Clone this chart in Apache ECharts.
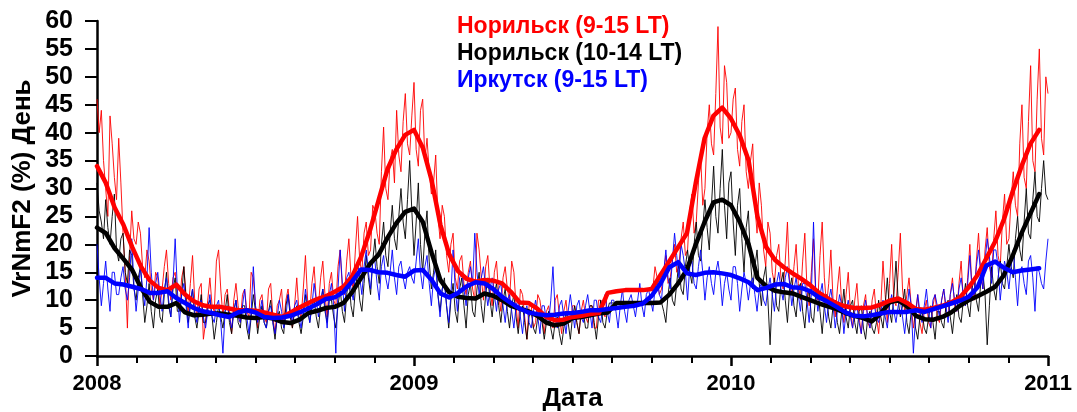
<!DOCTYPE html>
<html>
<head>
<meta charset="utf-8">
<script src="https://cdn.jsdelivr.net/npm/echarts@6/dist/echarts.min.js"></script>
<style>
  html, body { margin: 0; padding: 0; background: #fff; }
  #chart { width: 1077px; height: 412px; }
</style>
</head>
<body>
<div id="chart"></div>
<script>
// Dates are fractional years; raw series sampled every 2.5 days, running means every ~10 days.
const START_YEAR = 2008;
const RAW_PER_YEAR = 146;
const MEAN_PER_YEAR = 36;
const yearTicks = [2008, 2009, 2010, 2011];

const seriesNames = ['Норильск (9-15 LT)', 'Норильск (10-14 LT)', 'Иркутск (9-15 LT)'];

// Норильск, 9-15 LT — raw values (one row = 50 days)
const norilsk915Raw = [
  46,40, 44,35, 30,25, 43,38, 32,28, 39,31, 22,15, 5,18, 26,21, 20,24,
  22,16, 14,19, 17,12, 10,15, 14,9, 12,16, 19,13, 10,14, 15,11, 9,14,
  16,11, 8,13, 18,10, 7,12, 13,3, 6,10, 14,9, 8,17, 19,12, 7,11,
  12,8, 4,10, 13,9, 6,11, 12,8, 7,15, 14,9, 5,10, 11,7, 6,12,
  13,7, 4,9, 10,12, 6,10, 12,8, 5,9, 14,8, 7,12, 18,10, 8,13,
  16,10, 9,14, 17,11, 7,13, 15,10, 9,16, 19,12, 11,17, 21,14, 12,19,
  25,17, 15,22, 24,18, 19,27, 26,22, 20,33, 41,30, 28,35, 37,31, 44,36,
  33,42, 47,38, 36,43, 49,37, 34,44, 46,35, 39,33, 29,31, 36,25, 21,27,
  25,18, 15,20, 22,14, 12,17, 18,13, 11,15, 17,12, 10,22, 19,14, 10,16,
  18,12, 9,15, 17,11, 8,14, 16,12, 10,17, 15,9, 5,12, 11,7, 3,9,
  9,5, 6,11, 10,7, 4,8, 9,6, 5,10, 11,7, 4,8, 10,6, 6,9,
  9,6, 4,8, 10,7, 6,9, 9,5, 5,10, 10,8, 7,11.3, 11.5,11.6, 11.6,11.7,
  11.7,11.7, 11.8,11.8, 11.8,11.8, 11.8,11.8, 11.8,11.8, 11.8,11.8, 11.8,11.9, 11.9,11.9, 12,16, 14,11,
  12,15, 18,13, 14,17, 20,15, 16,21, 24,18, 19,26, 29,22, 24,31, 36,27,
  30,40, 45,38, 36,47, 59,41, 38,52, 49,39, 40,46, 48,37, 34,42, 45,33,
  30,35, 38,27, 22,31, 27,19, 16,24, 22,15, 13,18, 20,14, 12,17, 24,13,
  11,16, 20,13, 10,17, 22,12, 9,15, 21,11, 10,18, 24,14, 9,13, 19,10,
  7,12, 16,9, 6,11, 15,8, 5,10, 13,7, 4,9, 11,6, 5,10, 12,7,
  4,9, 17,11, 6,13, 20,10, 9,15, 22,12, 8,11, 14,9, 5,8, 11,6,
  4,8, 10,6, 5,9, 11,7, 6,10, 12,8, 7,11, 14,9, 8,13, 17,10,
  9,14, 20,12, 10,17, 22,15, 12,19, 23,16, 14,21, 26,18, 16,24, 29,20,
  21,28, 33,27, 25,38, 45,32, 30,42, 52,35, 33,46, 55,39, 36,50, 47
];

// Норильск, 10-14 LT — raw values
const norilsk1014Raw = [
  31,26, 24,21, 28,23, 20,25, 29,19, 17,21, 22,15, 13,19, 18,12, 10,14,
  16,11, 6,9, 13,8, 5,10, 12,7, 6,11, 15,9, 7,12, 14,8, 8,11,
  16,10, 6,9, 12,7, 5,8, 11,6, 6,9, 10,7, 3,6, 9,7, 5,8,
  11,6, 4,8, 10,6, 5,9, 9,5, 3,7, 11,8, 4,7, 9,6, 5,8,
  10,6, 3,7, 8,5, 4,9, 11,7, 5,8, 9,6, 4,7, 11,8, 6,9,
  10,7, 5,9, 12,8, 6,10, 10,7, 5,9, 12,8, 6,11, 14,9, 7,12,
  15,10, 8,13, 18,14, 11,17, 21,16, 13,20, 24,18, 16,22, 27,21, 19,25,
  30,24, 21,28, 35,26, 18,24, 31,20, 15,22, 26,17, 12,15, 19,11, 8,12,
  14,9, 5,10, 13,8, 6,12, 14,9, 5,11, 13,8, 7,12, 15,9, 6,11,
  14,10, 7,11, 13,9, 6,10, 12,8, 5,9, 11,7, 4,8, 9,6, 3,7,
  8,5, 4,7, 8,6, 3,6, 8,5, 3,6, 7,4, 2,5, 8,6, 3,7,
  9,6, 4,8, 8,5, 5,9, 9,6, 3,7, 10,6, 5,8, 9.5,9.5, 9.5,9.5,
  9.5,9.5, 9.5,9.5, 9.5,9.5, 9.5,9.5, 9.5,9.5, 9.5,9.5, 9.5,9.5, 9.5,9.5, 9.5,9.5, 9.5,9.6,
  9.6,8, 6,11, 14,10, 9,13, 17,12, 11,16, 19,15, 13,20, 24,18, 17,23,
  28,23, 19,27, 34,25, 22,30, 37,27, 21,31, 33,24, 18,27, 30,21, 15,23,
  26,17, 12,16, 19,13, 9,14, 16,10, 2,11, 14,9, 8,13, 15,10, 6,12,
  14,9, 7,12, 13,8, 5,10, 12,7, 6,11, 12,8, 4,9, 11,7, 5,9,
  10,6, 4,8, 12,7, 5,9, 10,6, 4,8, 9,5, 3,7, 8,5, 4,6,
  10,7, 5,9, 14,8, 6,11, 17,10, 7,9, 12,6, 4,8, 9,5, 3,7,
  8,5, 4,7, 9,6, 3,8, 8,6, 5,9, 10,7, 4,8, 11,7, 6,10,
  13,9, 7,12, 14,10, 8,13, 15,11, 2,9, 16,12, 10,14, 17,13, 12,16,
  20,16, 14,21, 25,19, 17,24, 30,22, 21,28, 33,25, 24,30, 35,29, 28
];

// Иркутск, 9-15 LT — raw values
const irkutskRaw = [
  20,14, 9,13, 17,12, 8,15, 15,11, 11,14, 16,12, 10,14, 21,13, 8,12,
  16,12, 9,14, 23,15, 10,13, 15,11, 8,12, 14,10, 7,13, 21,12, 6,11,
  13,9, 5,10, 12,8, 6,9, 10,7, 5,8, 11,7, 6,9, 10,6, 0.5,8,
  9,7, 5,8, 10,7, 6,9, 12,7, 4,8, 16,9, 6,8, 10,6, 5,8,
  9,6, 4,7, 10,8, 5,7, 11,8, 6,9, 10,7, 5,8, 12,9, 6,9,
  13,10, 7,10, 12,9, 5,11, 13,9, 0.5,12, 19,13, 8,14, 15,12, 10,15,
  17,14, 11,16, 19,15, 12,17, 17,13, 10,16, 18,14, 12,15, 19,14, 11,16,
  17,14, 12,15, 16,14, 13,17, 21,15, 12,16, 18,13, 9,14, 16,11, 7,12,
  13,9, 6,11, 19,12, 8,14, 15,12, 9,14, 16,13, 22,15, 11,14, 16,12,
  9,12, 14,11, 8,12, 13,9, 6,10, 11,8, 5,9, 10,7, 4,8, 9,6,
  5,8, 10,7, 4,9, 9,6, 6,10, 16,8, 5,9, 10,7, 4,8, 11,8,
  5,9, 10,7, 6,9, 11,8, 5,10, 10,7, 6,9, 11,8, 6,10, 10,8,
  5,9, 12,8, 6,10, 11,9, 7,10, 13,9, 7,11, 12,10, 8,12, 14,11,
  10,15, 19,14, 12,17, 22,18, 14,20, 18,15, 10,16, 17,13, 12,16, 19,15,
  10,14, 16,13, 11,15, 17,14, 9,13, 15,12, 10,16, 16,13, 8,12, 15,13,
  10,13, 14,11, 8,12, 13,10, 9,12, 14,11, 8,13, 15,12, 10,14, 16,13,
  9,12, 14,11, 8,13, 13,10, 6,11, 24,12, 8,11, 13,9, 6,10, 12,9,
  5,8, 11,9, 4,8, 10,7, 5,8, 9,6, 4,8, 10,7, 5,9, 9,7,
  6,8, 10,7, 5,9, 11,8, 6,9, 10,7, 4,8, 12,9, 0.5,7, 11,8,
  6,9, 12,8, 5,10, 11,9, 7,10, 12,9, 6,11, 13,10, 8,12, 14,11,
  9,13, 18,12, 11,16, 19,15, 12,17, 21,18, 13,19, 19,16, 10,14, 17,15,
  12,16, 19,14, 9,15, 16,13, 11,17, 18,14, 8,16, 15,13, 12,17, 21
];

// Running means
const norilsk915Mean = [
  34,31,26.6,23.5,19.5,16,13.5,12.2,11.8,12.8,
  11,9.8,9.1,8.8,8.8,8.5,8.2,8.2,8.1,7.8,
  7.4,7,7.8,8.7,9.5,10.2,10.7,11.5,12.4,14.3,
  17.8,22.5,28,33.5,37,39.6,40.5,37.3,31.5,23.5,
  18.2,15.2,13.8,13.3,13.6,13.5,13,11.5,9.6,9.5,
  8.5,7,6.4,6.5,7,7.2,7.5,7.7,11.3,11.6,
  11.8,11.8,11.8,12,14.5,17,19.5,22,31,39,
  43,44.5,42.5,39.5,35,25,19.5,17.2,15.9,14.8,
  13.8,12.7,11.3,10.3,9.4,8.9,8.6,8.6,8.7,9.2,
  9.9,10.3,9.5,8.4,8.3,8.6,9,9.6,10.5,12.3,
  14.5,17.5,20.5,24.5,29.5,34,38,40.5
];

const norilsk1014Mean = [
  23,22,19.3,17.4,15.4,12.2,9.7,8.8,8.8,9.5,
  7.8,7.3,7.4,7.6,7.6,7.4,7.2,6.9,6.8,7,
  6.7,6.1,5.9,6.5,7.7,8.1,8.6,8.8,9.5,11.5,
  14,16.5,18.2,21.2,23.8,25.8,26.4,24,18.5,13.6,
  11.4,10.6,10.4,10.3,11.2,10.8,10,9,8.5,8,
  7.2,6,5.5,5.8,6.8,7,7.3,7.6,7.8,9.5,
  9.5,9.5,9.5,9.5,9.6,11,13,15.5,20,24,
  27.5,28,27,24,20,14,12.5,11.7,11.4,11.2,
  10.6,10,9.4,8.9,8.4,7.7,7.2,6.8,6.2,7.6,
  9.6,10,8.9,7.2,6.6,6.5,7,7.8,9,10,
  10.7,11.5,12.4,14.5,18,22,25.5,29
];

const irkutskMean = [
  14,14,13,12.8,12.4,12,11.3,11.3,11.6,10.4,
  9.5,8.6,8,7.7,7.3,7,7.8,8.2,7.8,7,
  6.8,6.9,7.2,7.8,8.5,9.3,10.2,10.5,11.5,13.4,
  15.5,15.4,15,14.9,14.5,14.2,15.3,15.4,13.6,11.2,
  10.5,11.3,12.5,13.2,13,12,10.6,9.5,8.5,7.8,
  7.5,7.3,7.4,7.6,7.7,7.9,8.2,8.2,8.4,8.6,
  8.8,9,9.4,10.8,13,15.9,16.8,14.8,14.5,14.9,
  15,14.8,14.5,13.9,13.2,11.8,12.2,12.8,12.9,12.3,
  12.2,11.6,10.5,9.7,8.8,7.8,7.2,7.1,7.3,7.6,
  7.9,7.9,7.9,8.2,7.9,8.4,8.9,9.4,9.9,10.6,
  12.3,16.2,16.9,15.8,15,15.3,15.5,15.7
];

const colors = ['#ff0000', '#000000', '#0000ff'];
const FONT = '"Liberation Sans", Arial, sans-serif';

function toPoints(values, perYear) {
  return values.map((v, i) => [START_YEAR + i / perYear, v]);
}

function rawSeries(name, values, color) {
  return {
    name, type: 'line', data: toPoints(values, RAW_PER_YEAR),
    showSymbol: false, symbol: 'none', silent: true,
    lineStyle: { color, width: 1, opacity: 0.9 },
    itemStyle: { color }
  };
}
function meanSeries(name, values, color) {
  return {
    name, type: 'line', data: toPoints(values, MEAN_PER_YEAR),
    showSymbol: false, symbol: 'none', silent: true,
    lineStyle: { color, width: 4.5, join: 'round', cap: 'round' },
    itemStyle: { color }
  };
}

const chart = echarts.init(document.getElementById('chart'), null, { renderer: 'canvas' });
chart.setOption({
  animation: false,
  backgroundColor: '#ffffff',
  textStyle: { fontFamily: FONT },
  grid: { left: 97, right: 29, top: 21, bottom: 56, containLabel: false, outerBoundsMode: 'none' },
  legend: {
    orient: 'vertical', left: 447, top: 8,
    icon: 'none', itemWidth: 0, itemHeight: 0, itemGap: 0,
    selectedMode: false,
    textStyle: { fontFamily: FONT, fontWeight: 'bold', fontSize: 23, lineHeight: 27 },
    data: seriesNames.map((n, k) => ({ name: n, textStyle: { color: colors[k] } }))
  },
  xAxis: {
    type: 'value', min: 2008, max: 2011, interval: 1,
    name: 'Дата', nameLocation: 'middle', nameGap: 30, nameMoveOverlap: false,
    nameTextStyle: { fontFamily: FONT, fontWeight: 'bold', fontSize: 26, color: '#000' },
    axisLine: { show: true, onZero: false, lineStyle: { color: '#000', width: 2.5 } },
    axisTick: { show: true, length: 10, lineStyle: { color: '#000', width: 2.5 } },
    minorTick: { show: true, splitNumber: 8, length: 7, lineStyle: { color: '#000', width: 2 } },
    splitLine: { show: false },
    axisLabel: {
      margin: 17, color: '#000', fontFamily: FONT, fontWeight: 'bold', fontSize: 22,
      formatter: v => (yearTicks.includes(v) ? String(v) : '')
    }
  },
  yAxis: {
    type: 'value', min: 0, max: 60, interval: 5,
    name: 'VrNmF2 (%) День', nameLocation: 'middle', nameGap: 61, nameMoveOverlap: false,
    nameTextStyle: { fontFamily: FONT, fontWeight: 'bold', fontSize: 26, color: '#000' },
    axisLine: { show: true, lineStyle: { color: '#000', width: 2.5 } },
    axisTick: { show: true, length: 12, lineStyle: { color: '#000', width: 2 } },
    splitLine: { show: false },
    axisLabel: { margin: 24, color: '#000', fontFamily: FONT, fontWeight: 'bold', fontSize: 25 }
  },
  series: [
    rawSeries(seriesNames[0], norilsk915Raw, colors[0]),
    rawSeries(seriesNames[1], norilsk1014Raw, colors[1]),
    rawSeries(seriesNames[2], irkutskRaw, colors[2]),
    meanSeries(seriesNames[1], norilsk1014Mean, colors[1]),
    meanSeries(seriesNames[0], norilsk915Mean, colors[0]),
    meanSeries(seriesNames[2], irkutskMean, colors[2])
  ]
});
</script>
</body>
</html>
